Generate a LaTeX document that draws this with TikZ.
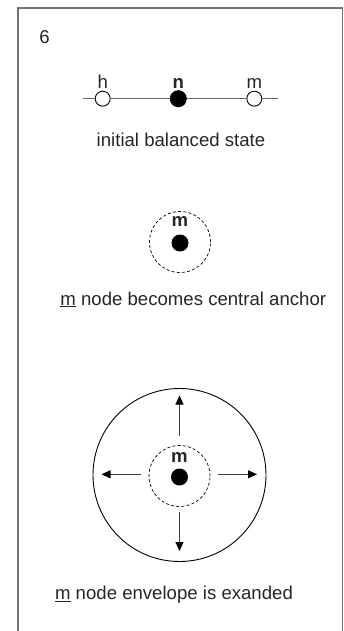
\documentclass[tikz,border=0pt]{standalone}
\usepackage{fontspec}
\setmainfont{Liberation Sans}
\usetikzlibrary{arrows.meta}
\begin{document}
\begin{tikzpicture}[x=1pt,y=-1pt,
  every node/.style={font=\fontsize{18.6}{22}\selectfont, text=black!85},
  opennode/.style={circle, draw=black, line width=0.9pt, fill=white, minimum size=15pt, inner sep=0pt},
  solidnode/.style={circle, fill=black, minimum size=17pt, inner sep=0pt},
  halo/.style={circle, draw=black, dashed, dash pattern=on 3pt off 2.2pt, line width=0.7pt, minimum size=61pt, inner sep=0pt},
  envelope/.style={circle, draw=black, line width=0.9pt, minimum size=173pt, inner sep=0pt},
  link/.style={draw=black!60, line width=1pt},
  push/.style={draw=black!75, line width=1pt, -{Triangle[length=9pt,width=8pt,color=black]}},
  frame/.style={draw=black!55, line width=1.5pt},
  caption/.style={anchor=base},
  tag/.style={anchor=base, font=\fontsize{18.6}{22}\selectfont\bfseries}
]
\useasboundingbox (0,0) rectangle (344,631);
% open frame, no bottom edge
\coordinate (fbl) at (18,631);
\coordinate (ftl) at (18,8);
\coordinate (ftr) at (342.5,8);
\coordinate (fbr) at (342.5,631);
\draw[frame] (fbl) -- (ftl) -- (ftr) -- (fbr);

% panel number
\node[anchor=base] (num) at (44.5,43.5) {6};

% stage 1: balanced chain h - n - m
\coordinate (lend) at (82.5,98.7);
\coordinate (rend) at (277.5,98.7);
\node[opennode]  (h) at (102.7,98.7) {};
\node[solidnode] (n) at (178.3,98.7) {};
\node[opennode]  (m) at (254.3,98.7) {};
\path[link] (lend) -- (h) -- (n) -- (m) -- (rend);
\node[anchor=base] (hl) at (102.7,89) {h};
\node[tag] (nl) at (178.3,89) {n};
\node[anchor=base] (ml) at (254.3,89) {m};
\node[caption] (c1) at (181,146.5) {initial balanced state};

% stage 2: m as anchor
\node[halo] (halo2) at (180,242) {};
\node[solidnode] (m2) at (180,243) {};
\node[tag] (m2l) at (180,226.5) {m};
\node[caption] (c2) at (193.3,305) {\underline{m} node becomes central anchor};

% stage 3: envelope expands
\node[envelope] (env) at (179.5,475) {};
\node[halo] (halo3) at (179.5,476) {};
\node[solidnode] (m3) at (179.5,477) {};
\node[tag] (m3l) at (179.5,462.5) {m};
\coordinate (up0) at (179.5,436);   \coordinate (up1) at (179.5,395.5);
\coordinate (dn0) at (179.5,512);   \coordinate (dn1) at (179.5,551);
\coordinate (lf0) at (140.5,474.3); \coordinate (lf1) at (101.5,474.3);
\coordinate (rt0) at (217.5,474.3); \coordinate (rt1) at (257,474.3);
\draw[push] (up0) -- (up1);
\draw[push] (dn0) -- (dn1);
\draw[push] (lf0) -- (lf1);
\draw[push] (rt0) -- (rt1);
\node[caption] (c3) at (174,599.3) {\underline{m} node envelope is exanded};
\end{tikzpicture}
\end{document}
